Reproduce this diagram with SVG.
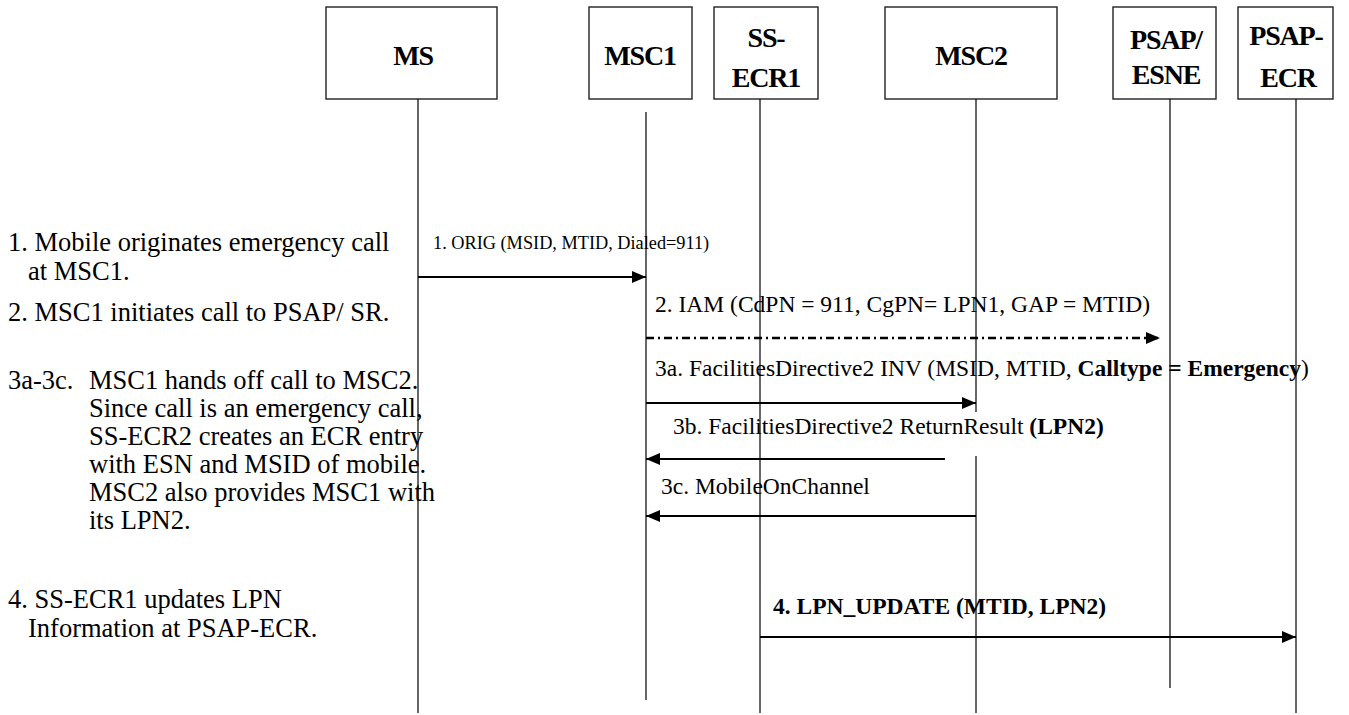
<svg xmlns="http://www.w3.org/2000/svg" width="1349" height="715" viewBox="0 0 1349 715">
  <defs>
    <marker id="arrow" viewBox="0 0 14 12" refX="14" refY="6" markerWidth="14" markerHeight="12" markerUnits="userSpaceOnUse" orient="auto">
      <path d="M0,0 L14,6 L0,12 Z" fill="#000"/>
    </marker>
  </defs>
  <style>
    .box { fill: #fff; stroke: #222; stroke-width: 1.4; }
    .hdr { font-family: 'Liberation Serif', 'Times New Roman', serif; font-weight: bold; font-size: 28px; fill: #000; text-anchor: middle; letter-spacing: -1.2px; }
    .life { stroke: #000; stroke-width: 1.2; fill: none; }
    .msg { stroke: #000; stroke-width: 2; fill: none; marker-end: url(#arrow); }
    .dashdot { stroke-dasharray: 8 4 2 4; stroke-width: 2.5; }
    .note { font-family: 'Liberation Serif', 'Times New Roman', serif; font-size: 26.5px; fill: #000; }
    .lbl { font-family: 'Liberation Serif', 'Times New Roman', serif; font-size: 23.5px; fill: #000; }
    .small { font-size: 18.3px; }
    .b { font-weight: bold; }
  </style>
  <rect width="1349" height="715" fill="#fff"/>

  <!-- participants -->
  <g id="ms">
    <rect class="box" x="326" y="7" width="171" height="92"/>
    <text class="hdr" x="413" y="65">MS</text>
    <line class="life" x1="418" y1="99" x2="418" y2="713"/>
  </g>
  <g id="msc1">
    <rect class="box" x="589" y="7" width="103" height="92"/>
    <text class="hdr" x="640" y="65">MSC1</text>
    <line class="life" x1="646" y1="112" x2="646" y2="700"/>
  </g>
  <g id="ss-ecr1">
    <rect class="box" x="714" y="7" width="104" height="92"/>
    <text class="hdr" x="766" y="47">SS-</text>
    <text class="hdr" x="766" y="87">ECR1</text>
    <line class="life" x1="760" y1="99" x2="760" y2="713"/>
  </g>
  <g id="msc2">
    <rect class="box" x="885" y="7" width="172" height="92"/>
    <text class="hdr" x="971" y="65">MSC2</text>
    <line class="life" x1="976" y1="99" x2="976" y2="412"/>
    <line class="life" x1="976" y1="456" x2="976" y2="713"/>
  </g>
  <g id="psap-esne">
    <rect class="box" x="1113" y="7" width="103" height="92"/>
    <text class="hdr" x="1166" y="49">PSAP/</text>
    <text class="hdr" x="1166" y="84">ESNE</text>
    <line class="life" x1="1170" y1="99" x2="1170" y2="688"/>
  </g>
  <g id="psap-ecr">
    <rect class="box" x="1238" y="7" width="95" height="92"/>
    <text class="hdr" x="1286" y="45">PSAP-</text>
    <text class="hdr" x="1288" y="87">ECR</text>
    <line class="life" x1="1296" y1="99" x2="1296" y2="713"/>
  </g>

  <!-- step descriptions -->
  <g id="notes">
    <text class="note" x="8" y="251">1. Mobile originates emergency call</text>
    <text class="note" x="28" y="280">at MSC1.</text>
    <text class="note" x="8" y="321">2.  MSC1 initiates call to PSAP/ SR.</text>
    <text class="note" x="8" y="389">3a-3c.</text>
    <text class="note" x="89" y="389">MSC1 hands off call to MSC2.</text>
    <text class="note" x="89" y="417">Since call is an emergency call,</text>
    <text class="note" x="89" y="445">SS-ECR2 creates an ECR entry</text>
    <text class="note" x="89" y="473">with ESN and MSID of mobile.</text>
    <text class="note" x="89" y="501">MSC2 also provides MSC1 with</text>
    <text class="note" x="89" y="529">its LPN2.</text>
    <text class="note" x="8" y="608">4. SS-ECR1 updates LPN</text>
    <text class="note" x="28" y="637">Information at PSAP-ECR.</text>
  </g>

  <!-- messages -->
  <g id="connectors">
    <line class="msg" x1="418" y1="277" x2="646" y2="277"/>
    <line class="msg dashdot" x1="646" y1="338" x2="1160" y2="338"/>
    <line class="msg" x1="646" y1="403" x2="976" y2="403"/>
    <line class="msg" x1="945" y1="459" x2="646" y2="459"/>
    <line class="msg" x1="976" y1="516" x2="646" y2="516"/>
    <line class="msg" x1="760" y1="637" x2="1296" y2="637"/>
  </g>

  <!-- message labels -->
  <g id="labels">
    <text class="lbl small" x="433" y="249">1. ORIG (MSID, MTID, Dialed=911)</text>
    <text class="lbl" x="655" y="312">2.  IAM (CdPN = 911, CgPN= LPN1, GAP = MTID)</text>
    <text class="lbl" x="655" y="376">3a.  FacilitiesDirective2 INV  (MSID, MTID, <tspan class="b">Calltype = Emergency</tspan>)</text>
    <text class="lbl" x="673" y="434">3b.  FacilitiesDirective2 ReturnResult <tspan class="b">(LPN2)</tspan></text>
    <text class="lbl" x="661" y="494">3c. MobileOnChannel</text>
    <text class="lbl b" x="773" y="614">4.  LPN_UPDATE  (MTID, LPN2)</text>
  </g>
</svg>
